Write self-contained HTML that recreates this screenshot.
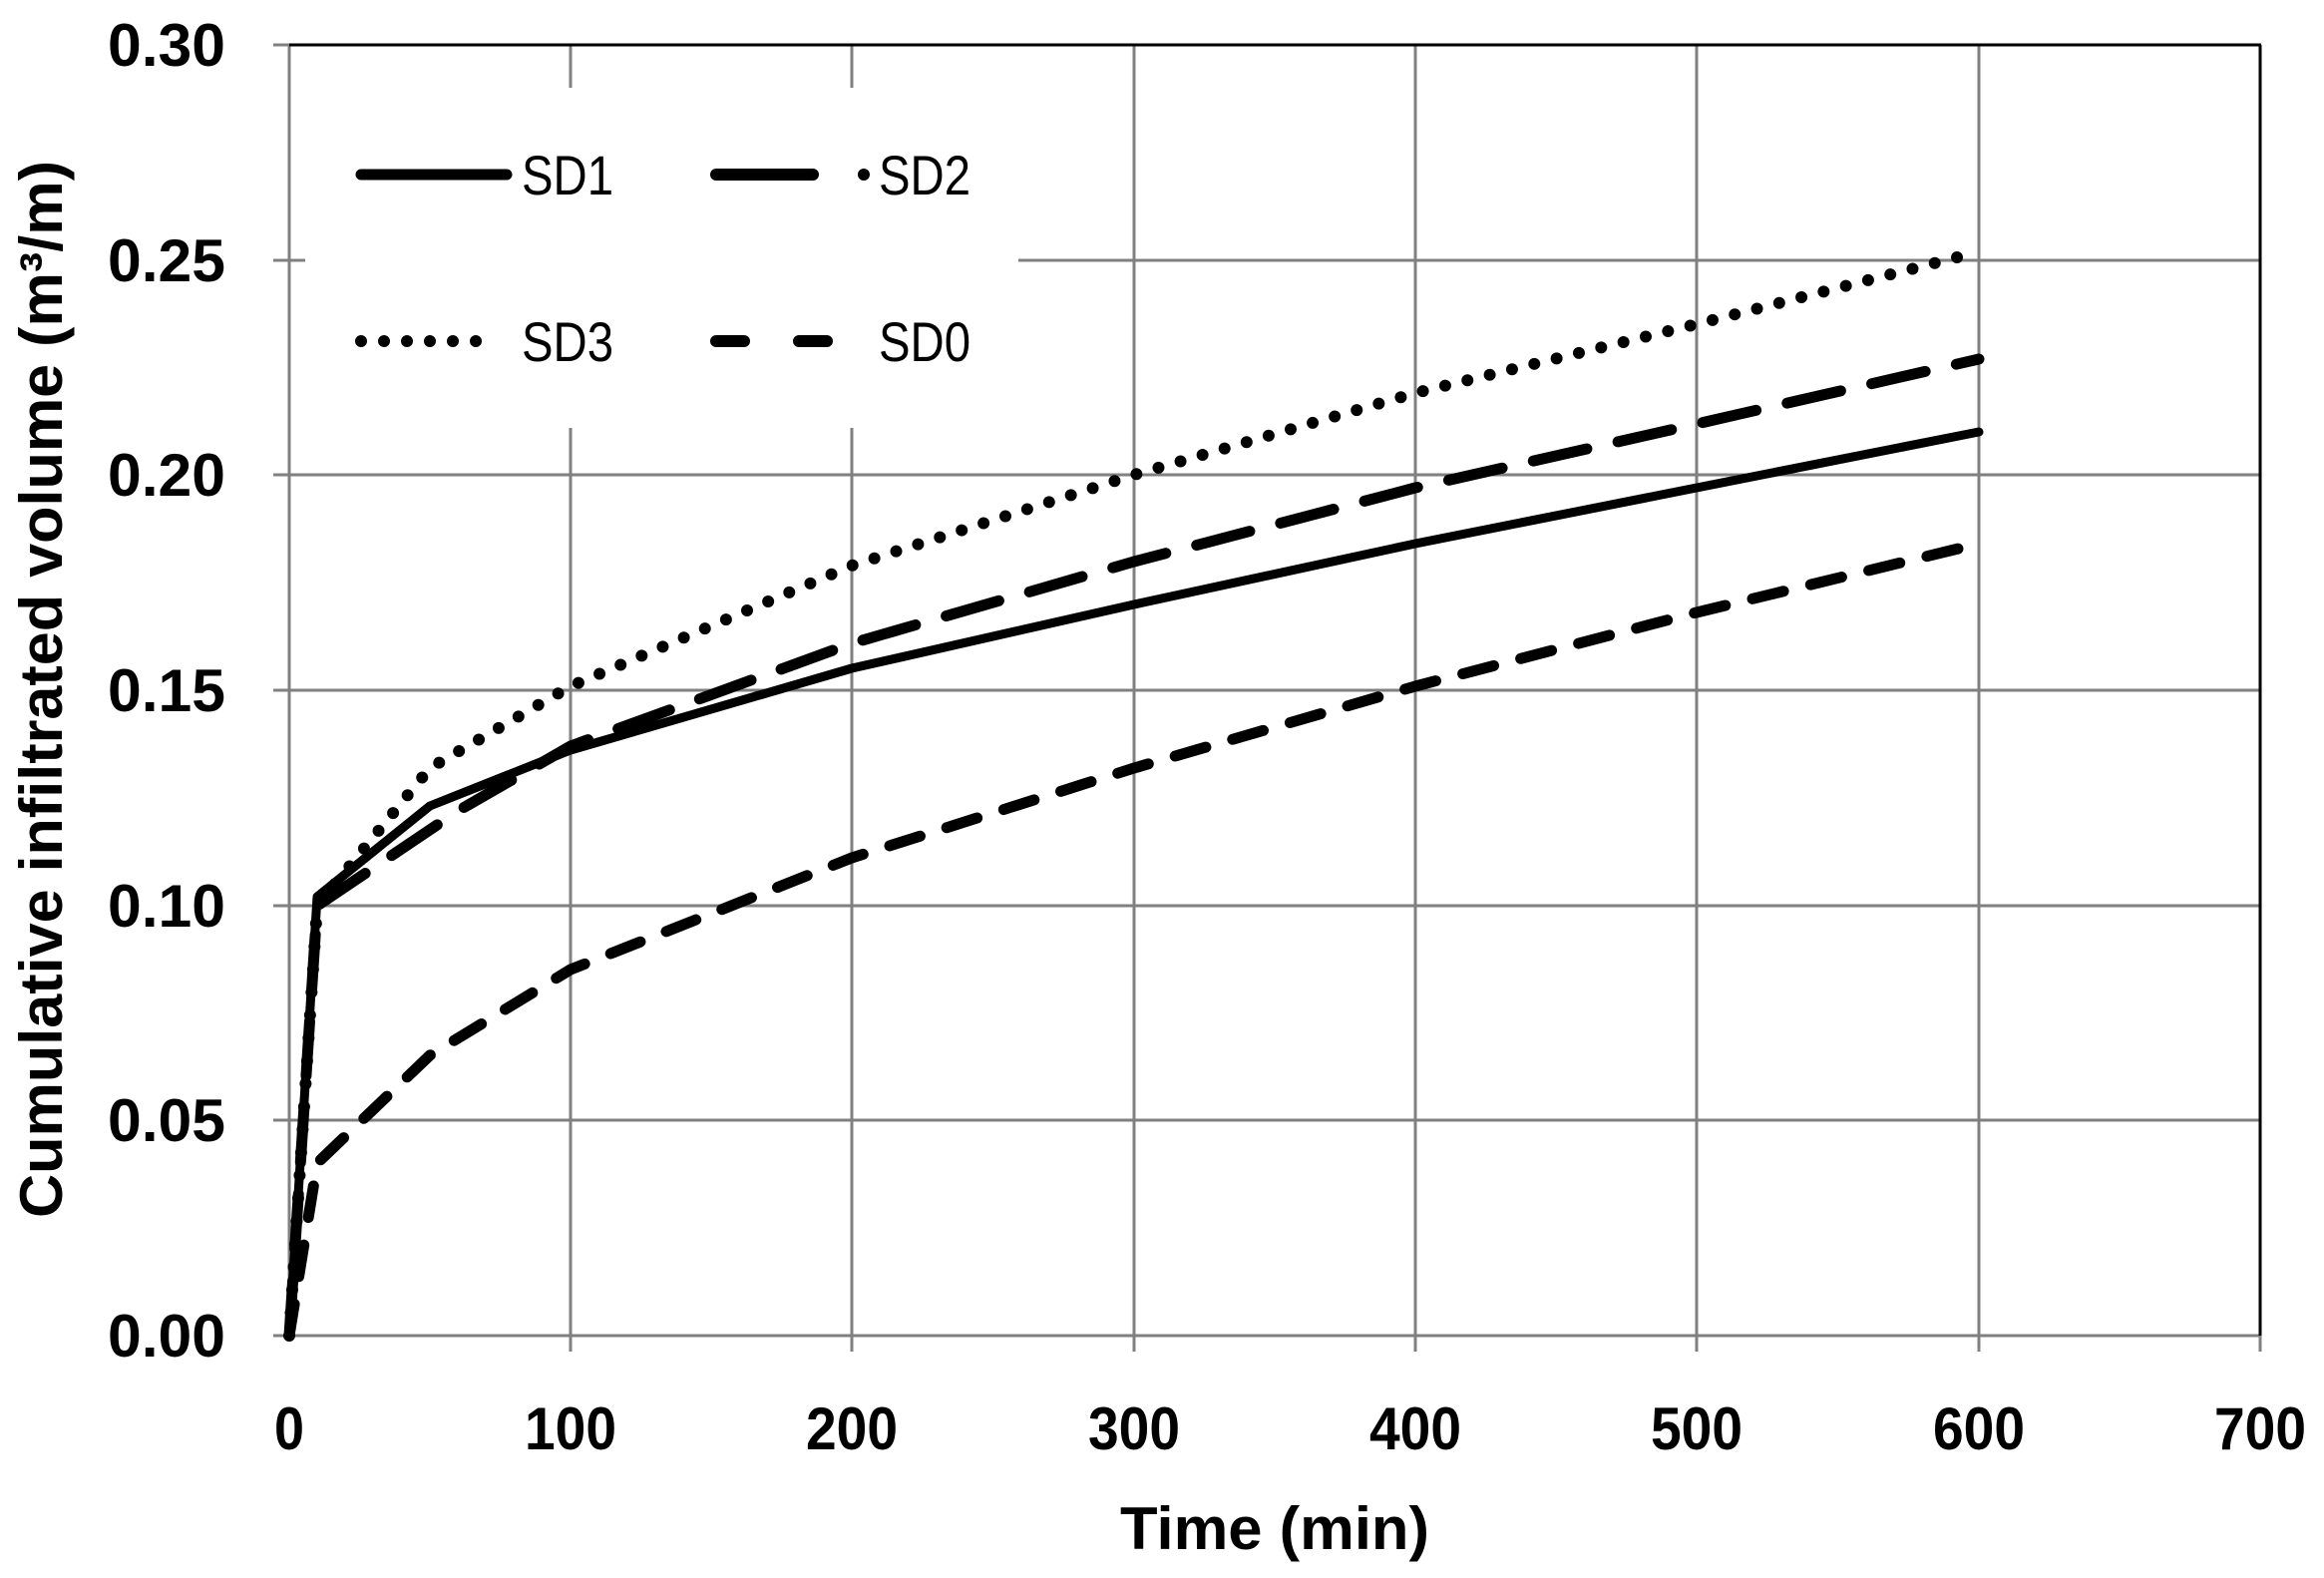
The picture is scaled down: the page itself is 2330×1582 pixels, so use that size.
<!DOCTYPE html>
<html><head><style>body{margin:0;background:#fff}svg{display:block}</style></head><body>
<svg width="2330" height="1582" viewBox="0 0 2330 1582" xmlns="http://www.w3.org/2000/svg">
<g stroke="#808080" stroke-width="3">
<line x1="572" y1="45" x2="572" y2="1355"/><line x1="854" y1="45" x2="854" y2="1355"/><line x1="1137" y1="45" x2="1137" y2="1355"/><line x1="1419" y1="45" x2="1419" y2="1355"/><line x1="1701" y1="45" x2="1701" y2="1355"/><line x1="1984" y1="45" x2="1984" y2="1355"/><line x1="2266" y1="1339" x2="2266" y2="1355"/>
<line x1="274" y1="1339" x2="2266" y2="1339"/><line x1="274" y1="1123" x2="2266" y2="1123"/><line x1="274" y1="908" x2="2266" y2="908"/><line x1="274" y1="692" x2="2266" y2="692"/><line x1="274" y1="476" x2="2266" y2="476"/><line x1="274" y1="261" x2="2266" y2="261"/>
<line x1="290" y1="45" x2="290" y2="1339"/><line x1="274" y1="45" x2="290" y2="45"/>
</g>
<g stroke="#000" stroke-width="3"><line x1="290" y1="45" x2="2267" y2="45"/><line x1="2266" y1="45" x2="2266" y2="1339"/></g>
<rect x="306" y="88" width="715" height="341" fill="#fff"/>
<g font-family="Liberation Sans, sans-serif" font-weight="bold" font-size="60" fill="#000">
<g text-anchor="end">
<text x="226" y="66" textLength="118" lengthAdjust="spacingAndGlyphs">0.30</text>
<text x="226" y="282" textLength="118" lengthAdjust="spacingAndGlyphs">0.25</text>
<text x="226" y="497" textLength="118" lengthAdjust="spacingAndGlyphs">0.20</text>
<text x="226" y="713" textLength="118" lengthAdjust="spacingAndGlyphs">0.15</text>
<text x="226" y="929" textLength="118" lengthAdjust="spacingAndGlyphs">0.10</text>
<text x="226" y="1144" textLength="118" lengthAdjust="spacingAndGlyphs">0.05</text>
<text x="226" y="1360" textLength="118" lengthAdjust="spacingAndGlyphs">0.00</text>
</g>
<g text-anchor="middle">
<text x="290" y="1453" textLength="30" lengthAdjust="spacingAndGlyphs">0</text>
<text x="572" y="1453" textLength="92" lengthAdjust="spacingAndGlyphs">100</text>
<text x="854" y="1453" textLength="92" lengthAdjust="spacingAndGlyphs">200</text>
<text x="1137" y="1453" textLength="92" lengthAdjust="spacingAndGlyphs">300</text>
<text x="1419" y="1453" textLength="92" lengthAdjust="spacingAndGlyphs">400</text>
<text x="1701" y="1453" textLength="92" lengthAdjust="spacingAndGlyphs">500</text>
<text x="1984" y="1453" textLength="92" lengthAdjust="spacingAndGlyphs">600</text>
<text x="2266" y="1453" textLength="92" lengthAdjust="spacingAndGlyphs">700</text>
<text x="1278" y="1553" textLength="310" lengthAdjust="spacingAndGlyphs">Time (min)</text>
<text transform="translate(62,691) rotate(-90)" textLength="1060" lengthAdjust="spacingAndGlyphs">Cumulative infiltrated volume (m³/m)</text>
</g>
</g>
<g font-family="Liberation Sans, sans-serif" font-size="56" fill="#000">
<text x="523" y="195" textLength="92" lengthAdjust="spacingAndGlyphs">SD1</text>
<text x="881" y="195" textLength="92" lengthAdjust="spacingAndGlyphs">SD2</text>
<text x="523" y="362" textLength="92" lengthAdjust="spacingAndGlyphs">SD3</text>
<text x="881" y="362" textLength="92" lengthAdjust="spacingAndGlyphs">SD0</text>
</g>
<g fill="none" stroke="#000" stroke-linecap="round" stroke-linejoin="round">
<line x1="362" y1="175" x2="508" y2="175" stroke-width="11"/>
<line x1="718" y1="175" x2="815" y2="175" stroke-width="12"/><circle cx="866" cy="175" r="6" fill="#000" stroke="none"/>
<line x1="362" y1="342" x2="492" y2="342" stroke-width="12" stroke-dasharray="0 23"/>
<line x1="718" y1="342" x2="855" y2="342" stroke-width="12" stroke-dasharray="28 55"/>
<polyline stroke-width="9" points="290,1339 318,899 431,808 572,752 854,670 1137,606 1419,545 1701,489 1984,433"/>
<polyline stroke-width="11" stroke-dasharray="55 32" points="290,1339 318,908 459,813 572,748 854,645 1137,563 1419,489 1701,425 1984,360"/>
<polyline stroke-width="12" stroke-dasharray="0 23" points="290,1339 318,908 431,770 572,688 854,567 1137,476 1419,394 1701,325 1970,256"/>
<polyline stroke-width="11" stroke-dasharray="32 28" points="290,1339 318,1166 431,1058 572,972 854,860 1137,770 1419,688 1701,614 1984,545"/>
</g>
</svg>
</body></html>
